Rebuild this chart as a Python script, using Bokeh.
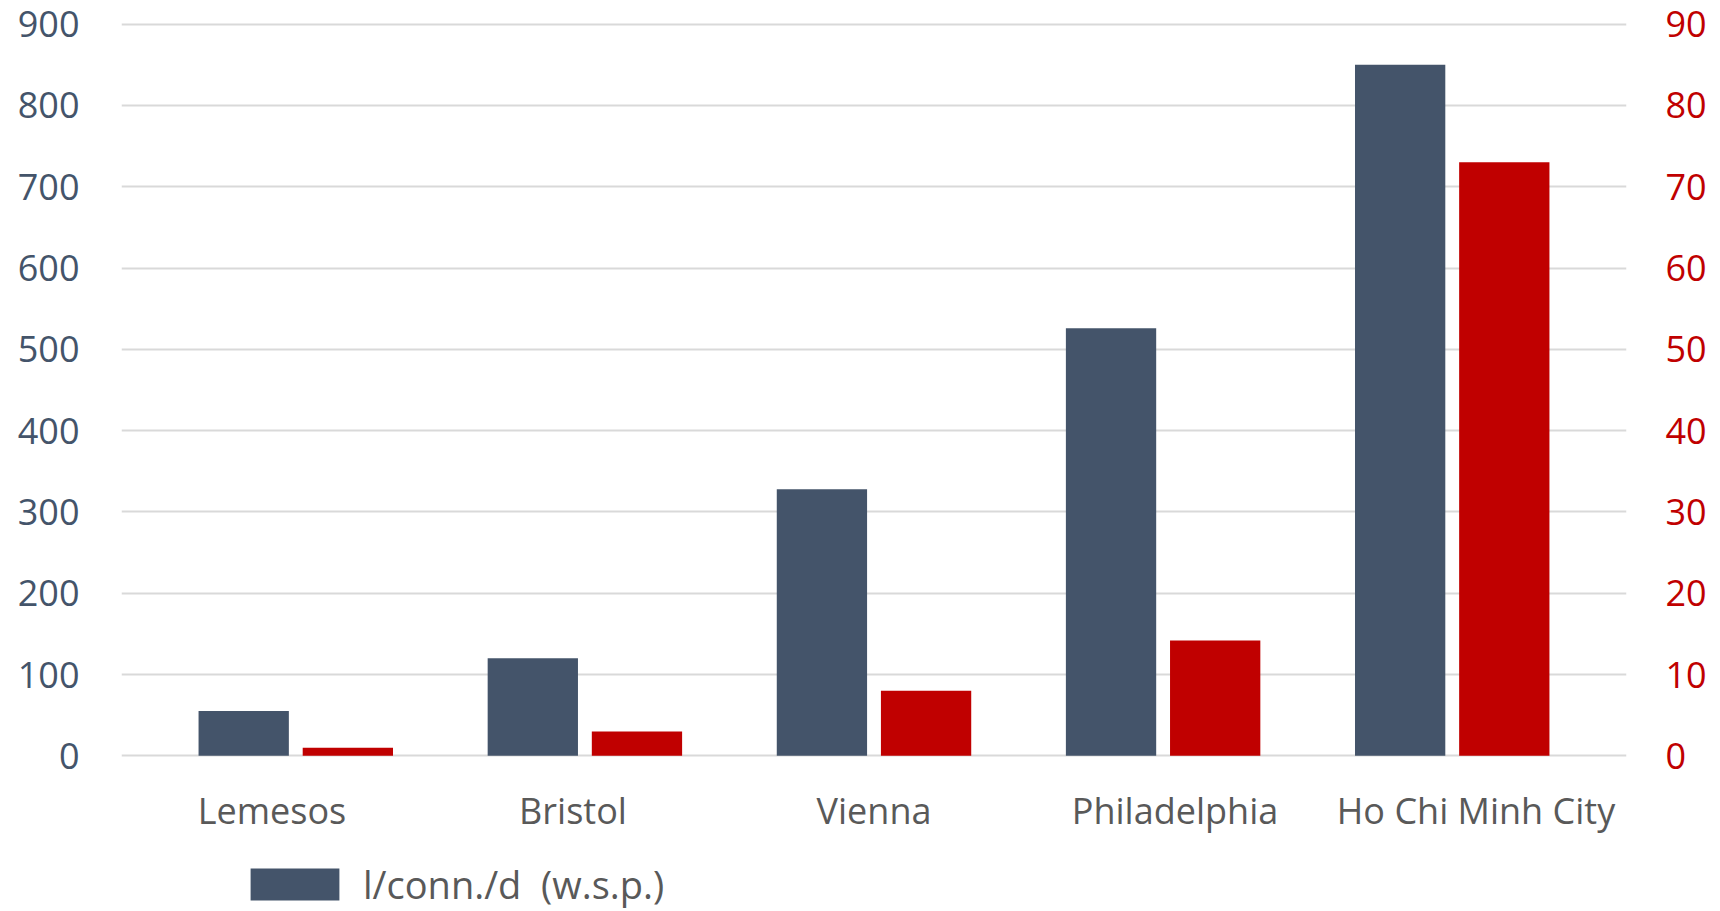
from bokeh.plotting import figure
from bokeh.models import (ColumnDataSource, Range1d, LinearAxis, FixedTicker,
                          Legend, LegendItem)
from bokeh.core.properties import value
from bokeh.embed import file_html
from bokeh.resources import INLINE

# Water loss figures per city
cities = ["Lemesos", "Bristol", "Vienna", "Philadelphia", "Ho Chi Minh City"]
litres_per_conn_day = [55, 120, 328, 526, 850]   # left axis
second_series = [1.0, 3.0, 8.0, 14.2, 73]         # right axis
left_ticks = [0, 100, 200, 300, 400, 500, 600, 700, 800, 900]
right_ticks = [0, 10, 20, 30, 40, 50, 60, 70, 80, 90]
legend_label = "l/conn./d\u00a0\u00a0(w.s.p.)"

DARK = "#44546A"
RED = "#C00000"
GREY_TEXT = "#595959"
FONT = "Open Sans"

W, H = 1720, 911
TOP, LEFT, RIGHT = 22, 121, 94

# bar groups sit on a slightly tighter pitch than the category labels
n = len(cities)
label_pos = [i + 0.5 for i in range(n)]
group_pitch = 0.9605
group_centre = [2.5 + (i - 2) * group_pitch for i in range(n)]
bar_w = 0.300
offset = 0.173

# the frame runs to the bottom of the page so the category labels and the
# legend live inside it; the value scale is kept at 0.813 px per unit
y_end = 902
px_per_unit = 0.813
y_start = y_end - (H - TOP) / px_per_unit
ratio = 10  # left axis units per right axis unit

src = ColumnDataSource(dict(
    x_dark=[c - offset for c in group_centre],
    x_red=[c + offset for c in group_centre],
    dark=litres_per_conn_day,
    red=second_series,
))

p = figure(width=W, height=H, output_backend="svg", toolbar_location=None,
           x_range=Range1d(0, n), y_range=Range1d(y_start, y_end),
           x_axis_location=None,
           min_border_left=LEFT, min_border_right=RIGHT, min_border_top=TOP,
           min_border_bottom=0, outline_line_color=None)
p.extra_y_ranges = {"right": Range1d(y_start / ratio, y_end / ratio)}

# grid
p.xgrid.grid_line_color = None
p.ygrid.grid_line_color = "#D9D9D9"
p.ygrid.grid_line_width = 2
p.ygrid.ticker = FixedTicker(ticks=left_ticks)

dark_r = p.vbar(x="x_dark", top="dark", bottom=0, width=bar_w, source=src,
                fill_color=DARK, line_color=None)
p.vbar(x="x_red", top="red", bottom=0, width=bar_w, source=src,
       y_range_name="right", fill_color=RED, line_color=None)

# category labels under the baseline
p.text(x=label_pos, y=[0] * n, text=cities, y_offset=55,
       text_align="center", text_baseline="middle",
       text_font=value(FONT), text_font_size="36px", text_color=GREY_TEXT)

# left axis
ya = p.yaxis[0]
ya.ticker = FixedTicker(ticks=left_ticks)
ya.axis_line_color = None
ya.major_tick_line_color = None
ya.minor_tick_line_color = None
ya.major_label_text_font = FONT
ya.major_label_text_font_size = "36px"
ya.major_label_text_color = DARK
ya.major_label_standoff = 36

# right axis
ra = LinearAxis(y_range_name="right", ticker=FixedTicker(ticks=right_ticks))
ra.axis_line_color = None
ra.major_tick_line_color = None
ra.minor_tick_line_color = None
ra.major_label_text_font = FONT
ra.major_label_text_font_size = "36px"
ra.major_label_text_color = RED
ra.major_label_standoff = 33
p.add_layout(ra, "right")

# area legend glyphs are inset by 10% on each side
legend = Legend(items=[LegendItem(label=legend_label, renderers=[dark_r])],
                location=(118, 1), padding=0, margin=0,
                glyph_width=111, glyph_height=40, label_height=40,
                label_standoff=13, border_line_color=None,
                background_fill_alpha=0,
                label_text_font=FONT, label_text_font_size="38px",
                label_text_color=GREY_TEXT)
p.add_layout(legend, "center")

open("out.html", "w").write(file_html(p, INLINE))
